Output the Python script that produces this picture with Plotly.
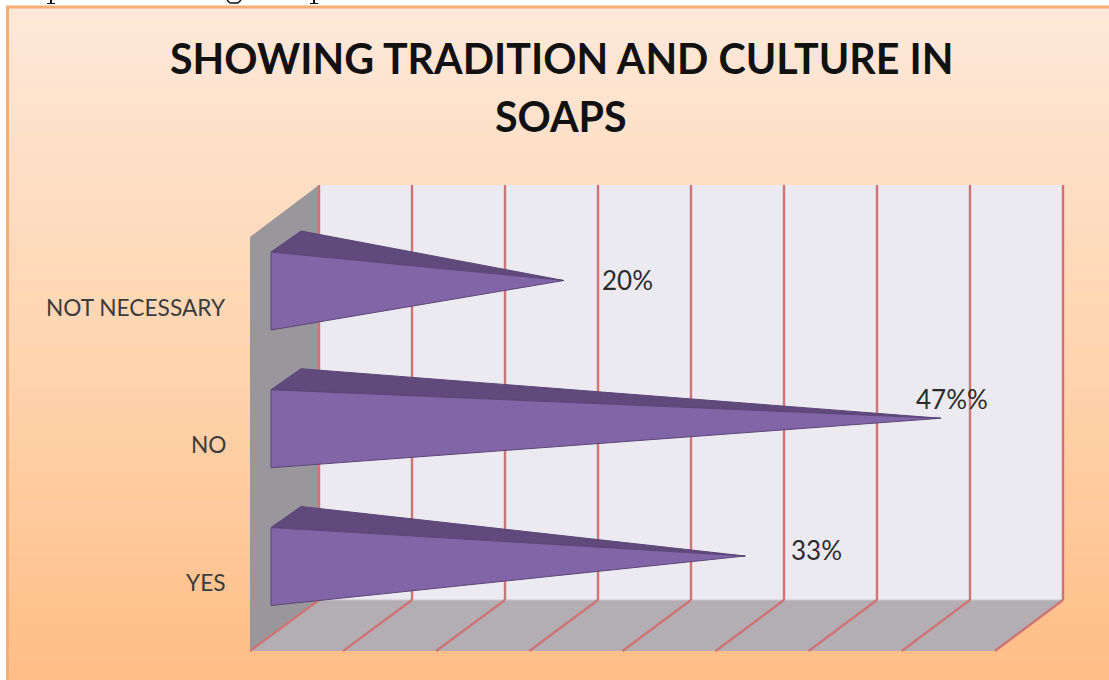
import plotly.graph_objects as go

# Chart content
title_lines = ["SHOWING TRADITION AND CULTURE IN", "SOAPS"]
categories = ["YES", "NO", "NOT NECESSARY"]
percent_values = [33, 47, 20]
value_labels = ["33%", "47%%", "20%"]

# Canvas and the mapping between axis units and screen pixels
WIDTH, HEIGHT = 1109, 680
ZERO_PX = 271.0       # screen x of value 0 on the front plane
PX_PER_PCT = 13.96
CAT0_PY = 566.5       # screen y of the first category centre
PX_PER_CAT = 137.75

x_range = [-ZERO_PX / PX_PER_PCT, (WIDTH - ZERO_PX) / PX_PER_PCT]
y_range = [(CAT0_PY - HEIGHT) / PX_PER_CAT, CAT0_PY / PX_PER_CAT]

# Pyramid proportions, in axis units
HALF_BASE = 39 / PX_PER_CAT
DEPTH_X = 30 / PX_PER_PCT
DEPTH_Y = 21 / PX_PER_CAT
APEX_DEPTH = 0.45     # how far back the apex sits within the bar's depth

# Panel gradient stops: (screen y, RGB)
GRADIENT = [(8, (254, 233, 218)), (170, (254, 222, 196)), (350, (255, 213, 176)),
            (520, (255, 201, 154)), (680, (255, 189, 133))]


def fx(px):
    return px / WIDTH


def fy(py):
    return 1 - py / HEIGHT


def vx(px):
    return (px - ZERO_PX) / PX_PER_PCT


def polygon(points, fill):
    path = "M " + " L ".join(f"{fx(a):.5f},{fy(b):.5f}" for a, b in points) + " Z"
    return dict(type="path", path=path, xref="paper", yref="paper", layer="below",
                fillcolor=fill, line=dict(width=0))


def segment(x0, y0, x1, y1, color, width=2.0):
    return dict(type="line", xref="paper", yref="paper", layer="below",
                x0=fx(x0), y0=fy(y0), x1=fx(x1), y1=fy(y1),
                line=dict(color=color, width=width))


def gradient_colour(py):
    for (y0, c0), (y1, c1) in zip(GRADIENT, GRADIENT[1:]):
        if py <= y1:
            t = (py - y0) / (y1 - y0)
            mix = [round(a + (b - a) * t) for a, b in zip(c0, c1)]
            return "rgb({},{},{})".format(*mix)
    return "rgb({},{},{})".format(*GRADIENT[-1][1])


shapes = []
# Panel background: vertical peach gradient, painted as overlapping bands
for band_y in range(8, HEIGHT, 4):
    shapes.append(dict(type="rect", xref="paper", yref="paper", layer="below",
                       x0=fx(8), x1=1, y0=fy(band_y), y1=0,
                       fillcolor=gradient_colour(band_y), line=dict(width=0)))

# Back wall, side wall and floor of the pseudo-3D box
shapes += [
    polygon([(319, 185), (1063, 185), (1063, 600), (319, 600)], "#ECEAF1"),
    polygon([(250, 237), (319, 185), (319, 600), (250, 651)], "#99979B"),
    polygon([(250, 651), (319, 600), (1063, 600), (995, 651)], "#B3AEB3"),
    segment(319, 600, 1063, 600, "#C9C6CA", 1),
]
GRID = "#CE7474"
for i in range(9):
    back_x = 319 + 93 * i
    front_x = 250 + 93.1 * i
    shapes.append(segment(back_x, 185, back_x, 600, GRID, 2.4))
    shapes.append(segment(back_x, 600, front_x, 651, GRID, 2.4))
# Outer frame of the panel
shapes.append(dict(type="rect", xref="paper", yref="paper", layer="below",
                   x0=fx(7.5), y0=fy(7), x1=fx(WIDTH + 10), y1=fy(HEIGHT + 10),
                   line=dict(color="#F8AE72", width=3), fillcolor="rgba(0,0,0,0)"))

# Ink tails of the body text line above the panel, cut by the page edge
INK = "#111111"
for stem_x in (51, 314):
    shapes.append(segment(stem_x, 0, stem_x, 3, INK, 2))
    shapes.append(segment(stem_x - 4, 3.5, stem_x + 4, 3.5, INK, 1))
shapes.append(segment(227, 0, 230, 3, INK, 1.5))
shapes.append(segment(230, 3, 238, 3, INK, 1.5))
shapes.append(segment(238, 3, 241, 0, INK, 1.5))

fig = go.Figure()

# Pyramid bars: front face plus the visible top face, both meeting at the apex
for pos, value in enumerate(percent_values):
    apex_x = value + DEPTH_X * APEX_DEPTH
    apex_y = pos + DEPTH_Y / 2
    fig.add_trace(go.Scatter(
        x=[0, DEPTH_X, apex_x, 0],
        y=[pos + HALF_BASE, pos + HALF_BASE + DEPTH_Y, apex_y, pos + HALF_BASE],
        mode="lines", fill="toself", fillcolor="#604A7B",
        line=dict(color="#5B4678", width=1), hoverinfo="skip", showlegend=False,
    ))
    fig.add_trace(go.Scatter(
        x=[0, apex_x, 0, 0],
        y=[pos + HALF_BASE, apex_y, pos - HALF_BASE, pos + HALF_BASE],
        mode="lines", fill="toself", fillcolor="#8165A6",
        line=dict(color="#5B4678", width=1), hoverinfo="skip", showlegend=False,
    ))

annotations = []
# Two-line heading, set line by line for its wide leading
for line_text, centre_py in zip(title_lines, (58, 116)):
    annotations.append(dict(
        x=fx(561), y=fy(centre_py), xref="paper", yref="paper",
        text="<b>" + line_text + "</b>", xanchor="center", yanchor="middle",
        showarrow=False, font=dict(family="Lato", size=41.2, color="#111111"),
    ))
# Category labels, right-aligned beside the box
for pos, name in enumerate(categories):
    annotations.append(dict(
        x=vx(227.5), y=pos - 16 / PX_PER_CAT, xref="x", yref="y", text=name,
        xanchor="right", yanchor="middle", showarrow=False,
        font=dict(family="Lato", size=22.7, color="#3C3C3C"),
    ))
# Value labels placed by hand around each apex
label_shift_px = [(42.5, -6), (-28, -19), (35, -1)]
for pos, (value, text, shift) in enumerate(zip(percent_values, value_labels, label_shift_px)):
    annotations.append(dict(
        x=value + DEPTH_X / 2 + shift[0] / PX_PER_PCT,
        y=pos + DEPTH_Y / 2 - shift[1] / PX_PER_CAT,
        xref="x", yref="y", text=text,
        xanchor="left", yanchor="middle", showarrow=False,
        font=dict(family="Lato", size=26, color="#2B2B2B"),
    ))

fig.update_layout(
    width=WIDTH, height=HEIGHT,
    margin=dict(l=0, r=0, t=0, b=0),
    paper_bgcolor="white", plot_bgcolor="rgba(0,0,0,0)",
    showlegend=False,
    shapes=shapes, annotations=annotations,
    xaxis=dict(range=x_range, visible=False, fixedrange=True),
    yaxis=dict(range=y_range, visible=False, fixedrange=True),
)

fig.write_html("out.html", config=dict(displayModeBar=False))
